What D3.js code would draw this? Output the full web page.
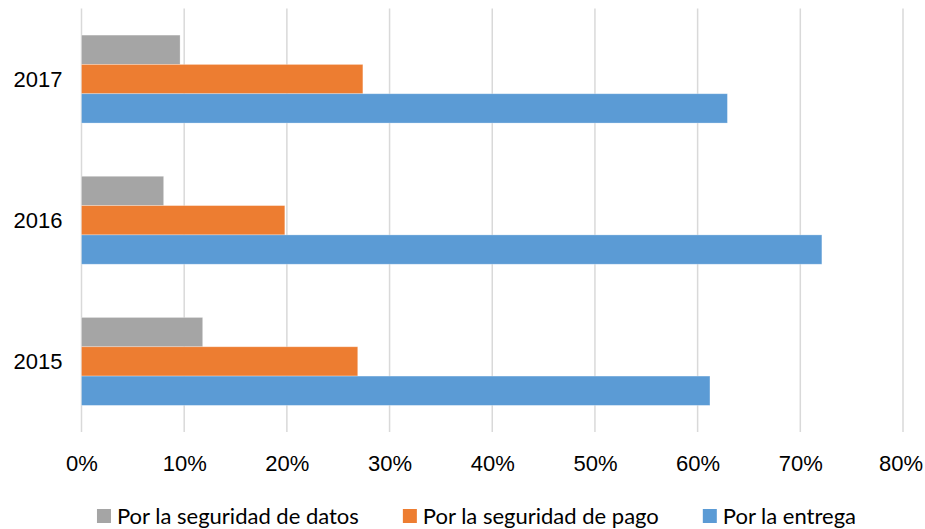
<!DOCTYPE html>
<html>
<head>
<meta charset="utf-8">
<script src="https://cdn.jsdelivr.net/npm/d3@7"></script>
<style>
  html, body { margin: 0; padding: 0; background: #fff; }
  svg { display: block; font-family: Lato, "Open Sans", sans-serif; }
</style>
</head>
<body>
<svg id="chart" width="925" height="529"></svg>
<script>
// Years, top to bottom
const years = ["2017", "2016", "2015"];
// Series names (legend order / bar order inside each group, top to bottom)
const seriesNames = ["Por la seguridad de datos", "Por la seguridad de pago", "Por la entrega"];
const seriesColors = ["#A5A5A5", "#ED7D31", "#5B9BD5"];
// Shares (%) per year, same order as years
const datos   = [9.6, 8.0, 11.8];
const pago    = [27.4, 19.8, 26.9];
const entrega = [62.9, 72.1, 61.2];
const xTicks = [0, 10, 20, 30, 40, 50, 60, 70, 80];

const seriesValues = [datos, pago, entrega];
const fontSize = 22;

const svg = d3.select("#chart");
const margin = { left: 81.5, right: 22, top: 8.5, bottom: 97 };
const W = 925, H = 529;

const x = d3.scaleLinear().domain([0, 80]).range([margin.left, W - margin.right]);
const y0 = d3.scaleBand().domain(years).range([margin.top, H - margin.bottom])
  .paddingInner(0.377).paddingOuter(0.1885);
const y1 = d3.scaleBand().domain(seriesNames).range([0, y0.bandwidth()]);

// Vertical gridlines
svg.append("g")
  .selectAll("line")
  .data(xTicks)
  .join("line")
  .attr("x1", d => x(d)).attr("x2", d => x(d))
  .attr("y1", margin.top).attr("y2", H - margin.bottom)
  .attr("stroke", "#D9D9D9").attr("stroke-width", 1.5);

// Bars
const groups = svg.append("g").selectAll("g")
  .data(years)
  .join("g")
  .attr("transform", d => `translate(0,${y0(d)})`);

groups.selectAll("rect")
  .data((yr, i) => seriesNames.map((s, j) => ({ s, j, v: seriesValues[j][i] })))
  .join("rect")
  .attr("x", x(0))
  .attr("y", d => y1(d.s))
  .attr("width", d => x(d.v) - x(0))
  .attr("height", y1.bandwidth())
  .attr("fill", d => seriesColors[d.j])
  .attr("stroke", "#fff").attr("stroke-opacity", 0.35).attr("stroke-width", 0.8);

// X axis tick labels
const xAxis = d3.axisBottom(x).tickValues(xTicks).tickFormat(d => d + "%").tickSize(0).tickPadding(0);
const gx = svg.append("g")
  .attr("transform", `translate(0,${H - margin.bottom})`)
  .call(xAxis);
gx.select(".domain").remove();
gx.selectAll("text")
  .attr("dy", "0.35em").attr("y", 31)
  .attr("font-size", fontSize).attr("fill", "#000")
  .style("font-family", "inherit");
// keep the last label inside the canvas
gx.selectAll(".tick").each(function () {
  const t = d3.select(this).select("text");
  const bb = this.getBBox();
  const tx = +d3.select(this).attr("transform").match(/translate\(([-\d.]+)/)[1];
  const over = tx + bb.x + bb.width - (W - 2);
  if (over > 0) t.attr("x", -over);
});

// Y axis labels
const yAxis = d3.axisLeft(y0).tickSize(0).tickPadding(0);
const gy = svg.append("g").attr("transform", `translate(${margin.left - 19},0)`).call(yAxis);
gy.select(".domain").remove();
gy.selectAll("text")
  .attr("font-size", fontSize).attr("fill", "#000").attr("dy", "0.35em")
  .style("font-family", "inherit");

// Legend
const legend = svg.append("g").attr("transform", `translate(0,516)`);
const items = legend.selectAll("g").data(seriesNames).join("g");
items.append("rect")
  .attr("x", 0).attr("y", -7).attr("width", 14).attr("height", 14)
  .attr("fill", (d, i) => seriesColors[i]);
items.append("text")
  .attr("x", 20).attr("dy", "0.35em")
  .attr("font-size", fontSize).attr("fill", "#000")
  .text(d => d);

// Lay out legend entries side by side, centered under the plot
const gap = 44;
let widths = [];
items.each(function () { widths.push(this.getBBox().width); });
const total = d3.sum(widths) + gap * (widths.length - 1);
let cx = 476.5 - total / 2;
items.each(function (d, i) {
  d3.select(this).attr("transform", `translate(${cx},0)`);
  cx += widths[i] + gap;
});
</script>
</body>
</html>
